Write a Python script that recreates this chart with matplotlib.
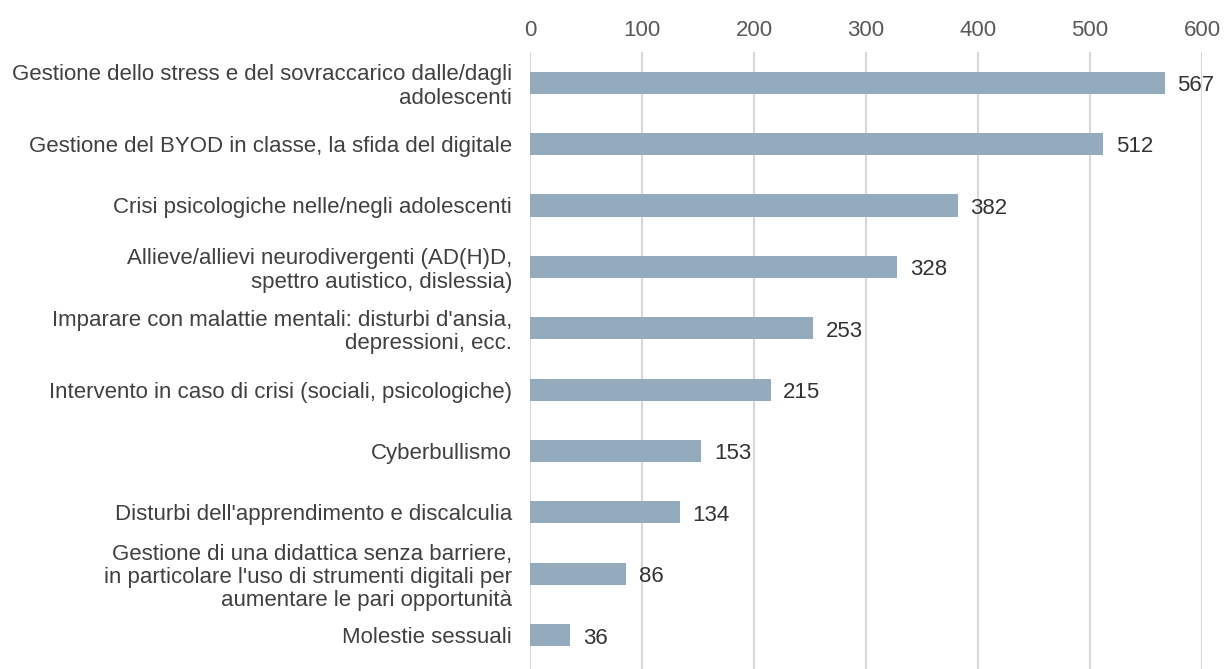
import matplotlib.pyplot as plt

categories = [
    "Gestione dello stress e del sovraccarico dalle/dagli\nadolescenti",
    "Gestione del BYOD in classe, la sfida del digitale",
    "Crisi psicologiche nelle/negli adolescenti",
    "Allieve/allievi neurodivergenti (AD(H)D,\nspettro autistico, dislessia)",
    "Imparare con malattie mentali: disturbi d'ansia,\ndepressioni, ecc.",
    "Intervento in caso di crisi (sociali, psicologiche)",
    "Cyberbullismo",
    "Disturbi dell'apprendimento e discalculia",
    "Gestione di una didattica senza barriere,\nin particolare l'uso di strumenti digitali per\naumentare le pari opportunità",
    "Molestie sessuali",
]
values = [567, 512, 382, 328, 253, 215, 153, 134, 86, 36]
ticks = [0, 100, 200, 300, 400, 500, 600]

plt.rcParams['font.family'] = ['Liberation Sans', 'DejaVu Sans']

fig = plt.figure(figsize=(12.26, 6.69), dpi=100)
ax = fig.add_axes([530 / 1226, 0, (1202 - 530) / 1226, 1 - 52 / 669])

pos = list(range(len(values)))
ax.barh(pos, values, height=0.36, color='#94abbe', zorder=3)
for p, v in zip(pos, values):
    ax.annotate(str(v), (v, p), xytext=(9, -2), textcoords='offset points',
                va='center', ha='left', fontsize=16, color='#333333')

ax.set_xlim(0, 600)
ax.set_ylim(len(values) - 0.45, -0.5)
ax.set_xticks(ticks)
ax.set_yticks(pos)
ax.set_yticklabels(categories, fontsize=16, color='#404040', linespacing=1.15)
ax.xaxis.tick_top()
ax.tick_params(axis='x', length=0, pad=8, labelsize=16, labelcolor='#595959')
ax.tick_params(axis='y', length=0, pad=13)
ax.grid(axis='x', color='#d9d9d9', linewidth=1.5, zorder=0)
for s in ax.spines.values():
    s.set_visible(False)

fig.savefig('out.png', dpi=100)
